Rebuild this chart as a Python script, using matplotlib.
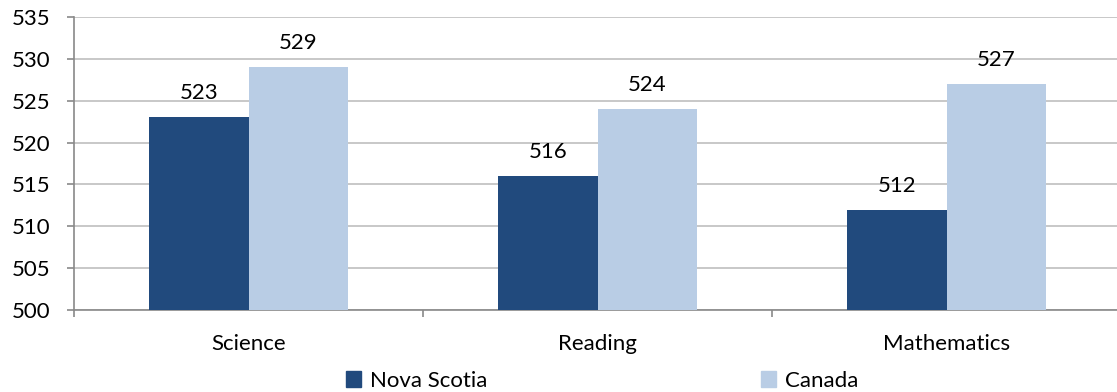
import numpy as np
import matplotlib.pyplot as plt
from matplotlib.patches import Patch

categories = ["Science", "Reading", "Mathematics"]
nova_scotia = [523, 516, 512]
canada = [529, 524, 527]
series_names = ["Nova Scotia", "Canada"]

DARK = "#214A7D"
LIGHT = "#B9CDE5"
GRID = "#BFBFBF"
AXIS = "#898989"
FS = 16

plt.rcParams["font.family"] = ["Lato", "DejaVu Sans"]

fig = plt.figure(figsize=(11.17, 3.92), dpi=100)
ax = fig.add_axes([74 / 1117, 1 - 310 / 392, (1121 - 74) / 1117, (310 - 17) / 392])

x = np.arange(len(categories))
w = 0.285
ax.bar(x - w / 2, np.array(nova_scotia) - 500, w, bottom=500, color=DARK, zorder=3)
ax.bar(x + w / 2, np.array(canada) - 500, w, bottom=500, color=LIGHT, zorder=3)

for xi, v in zip(x - w / 2, nova_scotia):
    ax.annotate(str(v), (xi, v), xytext=(0, 14), textcoords="offset pixels",
                ha="center", va="bottom", fontsize=FS)
for xi, v in zip(x + w / 2, canada):
    ax.annotate(str(v), (xi, v), xytext=(0, 14), textcoords="offset pixels",
                ha="center", va="bottom", fontsize=FS)

ax.set_xlim(-0.5, 2.5)
ax.set_ylim(500, 535)
ax.set_yticks(np.arange(500, 536, 5))
ax.yaxis.grid(True, color=GRID, linewidth=1.2, zorder=0)
ax.set_axisbelow(True)

ax.set_xticks(x)
ax.set_xticklabels(categories)
ax.set_xticks([-0.5, 0.5, 1.5, 2.5], minor=True)
ax.tick_params(axis="x", which="major", length=0, pad=17, labelsize=FS)
ax.tick_params(axis="x", which="minor", length=5, width=1.2, color=AXIS, direction="out")
ax.tick_params(axis="y", length=5, width=1.2, color=AXIS, pad=12, labelsize=FS)

for side in ["top", "right"]:
    ax.spines[side].set_visible(False)
for side in ["left", "bottom"]:
    ax.spines[side].set_color(AXIS)
    ax.spines[side].set_linewidth(1.2)

handles = [Patch(color=DARK), Patch(color=LIGHT)]
fig.legend(handles, series_names, loc="center", bbox_to_anchor=(602 / 1117, 1 - 381 / 392),
           ncol=2, frameon=False, fontsize=FS, handlelength=0.7, handleheight=0.7,
           handletextpad=0.4, columnspacing=12.3, borderpad=0)

fig.savefig("out.png", dpi=100)
